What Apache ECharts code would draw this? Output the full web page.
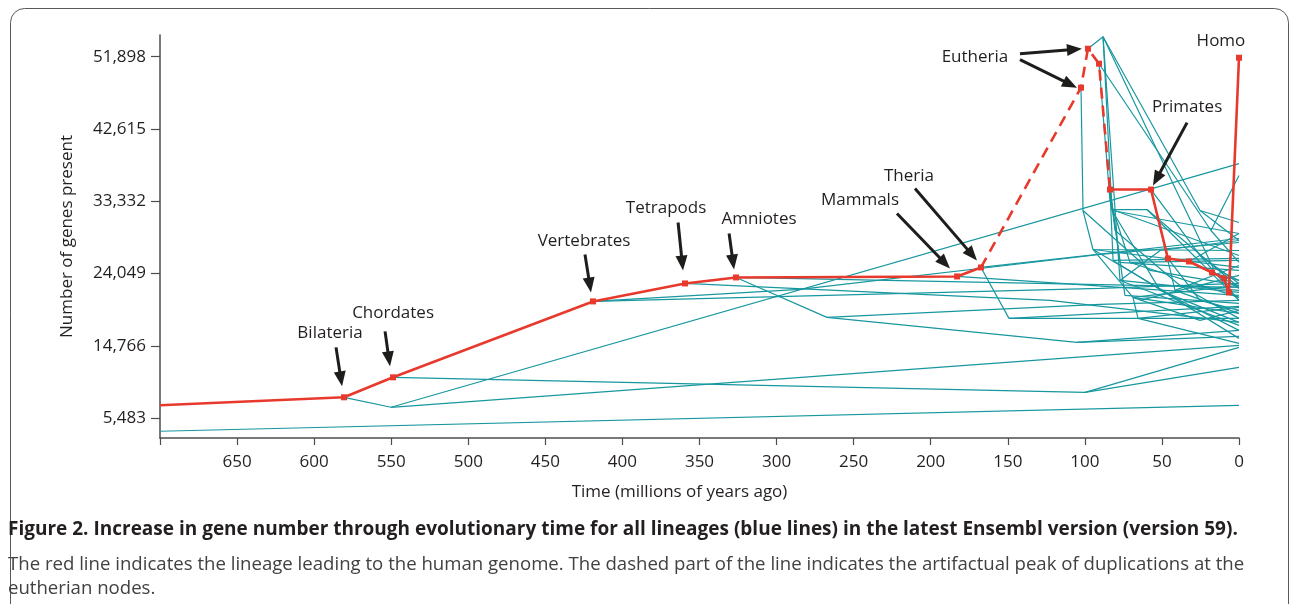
<!DOCTYPE html>
<html>
<head>
<meta charset="utf-8">
<script src="https://cdn.jsdelivr.net/npm/echarts@6/dist/echarts.min.js"></script>
<style>html,body{margin:0;padding:0;background:#fff}#c{width:1291px;height:604px}</style>
</head>
<body>
<div id="c"></div>
<script>
// ---------- tick labels ----------
const yTickValues = [5483, 14766, 24049, 33332, 42615, 51898];
const xMinTime = 0, xMaxTime = 700, xStep = 50;

// ---------- human lineage (red), [time Mya, genes] ----------
const humanSolidEarly = [[700,7150],[580.6,8175],[548.8,10739],[419.1,20482],[359.4,22790],[326.3,23559],[182.9,23687],[167.4,24841]];
const humanDashed = [[167.4,24841],[102.5,47917],[98.0,52917],[90.8,50994],[83.7,34841]];
const humanSolidLate = [[83.7,34841],[57.1,34841],[46.1,25995],[32.4,25610],[17.5,24200],[9.7,23431],[6.5,21636],[0,51763]];

// ---------- all other lineages (blue lines) ----------
const deepLineages = [
  [[700,3816],[0,7150]],
  [[580.6,8175],[550.1,6893],[0,38174]],
  [[550.1,6893],[0,14842]],
  [[548.8,10739],[99.9,8816],[0,12021]],
  [[99.9,8816],[0,14585]]
];
const stemLineages = [
  [[419.1,20482],[90.2,22149],[0,22790]],
  [[359.4,22790],[122.6,20611],[0,17790]],
  [[326.3,23559],[0,22277]],
  [[326.3,23559],[267.3,18431],[90.2,20098],[0,20611]],
  [[267.3,18431],[105.1,15226],[0,15995]],
  [[105.1,15226],[0,16765]],
  [[167.4,24841],[149.2,18303],[0,18303]],
  [[149.2,18303],[0,19841]],
  [[167.4,24841],[0,28559]],
  [[182.9,23687],[0,21252]],
  [[419.1,20482],[284.8,22021],[90.2,26508],[0,28046]]
];
const eutherianLineages = [
  [[102.5,47917],[101.2,32149],[94.7,27149],[0,27021]],
  [[94.7,27149],[68.8,20995],[0,18944]],
  [[68.8,20995],[65.5,18303],[0,15098]],
  [[65.5,18303],[0,19713]],
  [[98.0,52917],[88.2,54455],[82.4,32149],[0,29200]],
  [[88.2,54455],[77.2,23175],[0,21636]],
  [[88.2,54455],[25.3,32149],[0,30610]],
  [[88.2,54455],[16.9,24841],[0,23175]],
  [[90.8,50994],[18.2,29585],[0,36636]],
  [[18.2,29585],[0,25482]],
  [[90.8,50994],[83.7,33431],[70.7,25482],[0,20995]],
  [[83.7,34841],[82.4,32277],[59.7,32277],[0,22277]],
  [[83.7,34841],[80.4,29585],[38.3,22534],[0,18303]],
  [[83.7,34841],[77.2,25482],[0,24457]],
  [[83.7,34841],[81.7,25739],[0,15739]],
  [[83.7,34841],[74.0,21252],[0,20226]],
  [[57.1,34841],[41.5,21893],[0,18944]],
  [[57.1,34841],[25.3,26380],[0,22790]],
  [[46.1,25995],[25.3,20611],[0,19329]],
  [[32.4,25610],[0,29200]],
  [[17.5,24200],[0,23175]],
  [[9.7,23431],[0,22149]],
  [[6.5,21636],[0,20995]],
  [[77.2,23175],[0,17406]],
  [[68.8,20995],[0,22534]],
  [[94.7,27149],[0,24841]],
  [[70.7,25482],[0,25739]],
  [[59.7,32277],[0,20611]],
  [[82.4,32149],[51.2,21893],[0,17790]],
  [[25.3,32149],[0,28303]],
  [[38.3,22534],[0,21893]],
  [[81.7,25739],[0,25995]],
  [[77.2,23175],[51.2,27021],[0,28303]],
  [[64.2,20611],[0,23816]],
  [[25.3,26380],[0,20611]],
  [[41.5,21893],[0,25098]],
  [[94.7,27149],[38.3,20611],[0,16765]],
  [[101.2,32149],[57.7,24457],[0,22534]],
  [[82.4,32277],[0,26380]],
  [[68.8,20995],[25.3,18047],[0,19329]]
];

// ---------- annotations ----------
const annotationNames = ['Bilateria','Chordates','Vertebrates','Tetrapods','Amniotes','Mammals','Theria','Eutheria','Primates','Homo'];
const annotationPositions = [[589.7,16380],[548.8,18944],[424.9,28174],[371.7,32405],[311.4,30995],[245.9,33431],[214.1,36508],[171.3,51892],[33.7,45482],[11.7,53943]];
const arrowTails = [[585.8,14585],[554.0,16636],[424.3,26508],[363.9,30610],[330.8,29200],[221.9,31764],[210.2,34969],[142.1,52276],[142.1,51507],[33.7,43430]];
const arrowTips  = [[581.9,9585],[550.8,12149],[420.4,21636],[360.7,24457],[327.6,24585],[187.5,24713],[170.0,25739],[101.9,52917],[105.1,47917],[55.8,35354]];

// ---------- styles ----------
const FONT = '"Open Sans", "Noto Sans", sans-serif';
const RED = '#e8392d';
const TEAL = '#17979f';
const INK = '#231f20';
const AXIS = '#4d4d4f';

function comma(v){ return String(v).replace(/\B(?=(\d{3})+(?!\d))/g, ','); }

const series = [];
[...deepLineages, ...stemLineages, ...eutherianLineages].forEach(function(l){
  series.push({type:'line', data:l, showSymbol:false, silent:true, z:2,
    lineStyle:{color:TEAL, width:1.2}, animation:false});
});
function redSeries(data, dashed, skipFirst){
  return {type:'line', z:5, silent:true, animation:false,
    data: data.map(function(p,i){ return {value:p, symbol:(skipFirst && i===0)?'none':'rect'}; }),
    symbol:'rect', symbolSize:6, showSymbol:true,
    itemStyle:{color:RED}, lineStyle:{color:RED, width:2.6, type: dashed ? [11,7] : 'solid'}};
}
series.push(redSeries(humanSolidEarly, false, true));
series.push(redSeries(humanDashed, true, true));
series.push(redSeries(humanSolidLate, false, true));

series.push({
  type:'custom', z:10, silent:true, animation:false, clip:false,
  encode:{x:[0,2], y:[1,3]},
  data: arrowTails.map(function(a,i){ return [a[0],a[1],arrowTips[i][0],arrowTips[i][1]]; }),
  renderItem:function(params, api){
    const p0 = api.coord([api.value(0), api.value(1)]);
    const p1 = api.coord([api.value(2), api.value(3)]);
    const dx = p1[0]-p0[0], dy = p1[1]-p0[1], L = Math.hypot(dx,dy);
    const ux = dx/L, uy = dy/L, hl = 15, hw = 6;
    const bx = p1[0]-ux*hl, by = p1[1]-uy*hl;
    return {type:'group', children:[
      {type:'line', shape:{x1:p0[0], y1:p0[1], x2:bx+ux*3, y2:by+uy*3}, style:{stroke:'#1d1d1b', lineWidth:3}},
      {type:'polygon', shape:{points:[[p1[0],p1[1]],[bx-uy*hw, by+ux*hw],[bx+uy*hw, by-ux*hw]]}, style:{fill:'#1d1d1b'}}
    ]};
  }
});
series.push({
  type:'custom', z:11, silent:true, animation:false, clip:false,
  data: annotationPositions,
  renderItem:function(params, api){
    const p = api.coord([api.value(0), api.value(1)]);
    return {type:'text', x:p[0], y:p[1], style:{text:annotationNames[params.dataIndex], x:0, y:0,
      align:'center', verticalAlign:'middle', fill:INK, font:'17px ' + FONT}};
  }
});

const chart = echarts.init(document.getElementById('c'), null, {renderer:'canvas'});
chart.setOption({
  backgroundColor:'#fff',
  animation:false,
  grid:{left:160, right:52, top:35, bottom:166, outerBoundsMode:'none'},
  xAxis:{type:'value', position:'bottom', inverse:true, min:xMinTime, max:xMaxTime, interval:xStep,
    name:'Time (millions of years ago)', nameLocation:'middle', nameGap:46,
    nameTextStyle:{fontFamily:FONT, fontSize:17, color:INK, padding:[0,40,0,0]},
    axisLine:{show:true, onZero:false, lineStyle:{color:AXIS, width:1.5}},
    axisTick:{show:true, length:7, lineStyle:{color:AXIS, width:1.2}},
    axisLabel:{margin:16, fontFamily:FONT, fontSize:17, color:INK,
      formatter:function(v){ return v === xMaxTime ? '' : String(v); }},
    splitLine:{show:false}},
  yAxis:{type:'value', position:'left', min:2950, max:54680,
    name:'Number of genes present', nameLocation:'middle', nameGap:84, nameRotate:90,
    nameTextStyle:{fontFamily:FONT, fontSize:17, color:INK},
    axisLine:{show:true, onZero:false, lineStyle:{color:AXIS, width:1.5}},
    axisTick:{show:true, length:9, customValues:yTickValues, lineStyle:{color:AXIS, width:1.2}},
    axisLabel:{margin:14, fontFamily:FONT, fontSize:17, color:INK, customValues:yTickValues, formatter:comma},
    splitLine:{show:false}},
  graphic:[
    {type:'rect', silent:true, shape:{x:10.5, y:8.5, width:1278, height:700, r:14}, style:{fill:'none', stroke:'#58595b', lineWidth:1}},
    {type:'text', silent:true, left:8, top:520, style:{text:'Figure 2. Increase in gene number through evolutionary time for all lineages (blue lines) in the latest Ensembl version (version 59).', font:'bold 19px ' + FONT, fill:INK}},
    {type:'text', silent:true, left:8, top:555, style:{text:'The red line indicates the lineage leading to the human genome. The dashed part of the line indicates the artifactual peak of duplications at the', font:'18.6px ' + FONT, fill:'#414042'}},
    {type:'text', silent:true, left:8, top:579, style:{text:'eutherian nodes.', font:'18.6px ' + FONT, fill:'#414042'}}
  ],
  series:series
});
</script>
</body>
</html>
